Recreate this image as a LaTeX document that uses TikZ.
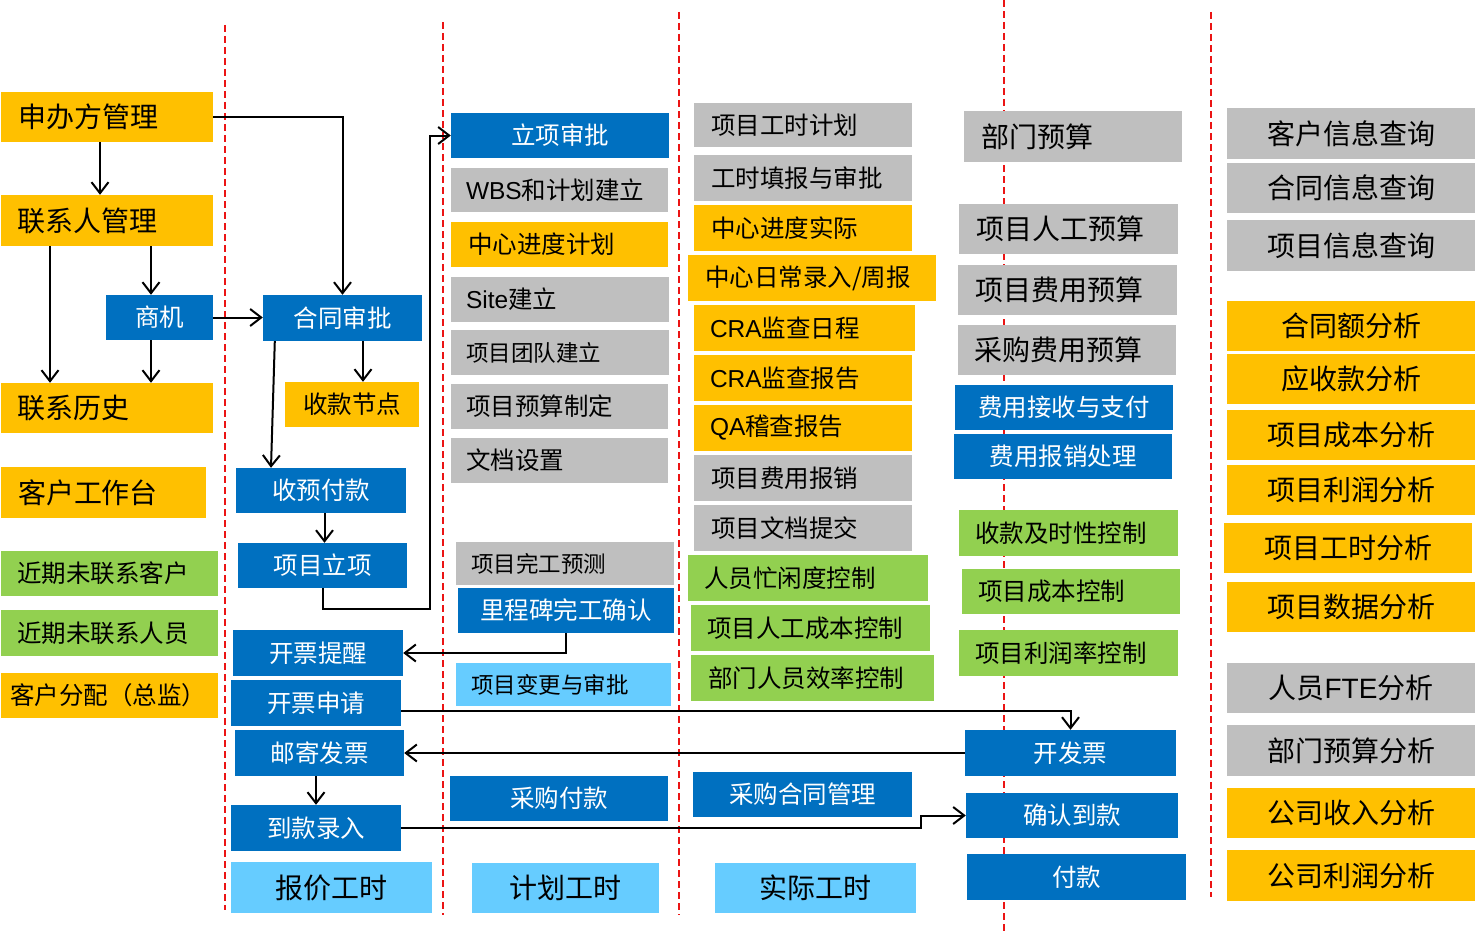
\documentclass[tikz,border=0pt]{standalone}
\usepackage{fontspec}
\setmainfont{Noto Sans CJK SC}
\newfontfamily\latin{Liberation Sans}
\usetikzlibrary{arrows.meta}
\definecolor{boxorange}{RGB}{255,192,0}
\definecolor{boxblue}{RGB}{0,112,192}
\definecolor{boxgray}{RGB}{191,191,191}
\definecolor{boxgreen}{RGB}{146,208,80}
\definecolor{boxlight}{RGB}{102,204,255}
\definecolor{sepred}{RGB}{235,20,20}
\begin{document}
\begin{tikzpicture}[x=1pt, y=-1pt,
	box/.style={inner sep=0pt, text=black},
	orangebox/.style={box, fill=boxorange},
	bluebox/.style={box, fill=boxblue, text=white},
	graybox/.style={box, fill=boxgray},
	greenbox/.style={box, fill=boxgreen},
	lightbox/.style={box, fill=boxlight},
	wh/.style 2 args={minimum width=#1pt, minimum height=#2pt},
	lt/.style={text width=#1pt, align=left},
	lg/.style={font=\fontsize{28}{32}\selectfont},
	md/.style={font=\fontsize{24.5}{28}\selectfont},
	sm/.style={font=\fontsize{22.5}{26}\selectfont},
	link/.style={line width=2pt, -{Straight Barb[length=11pt,width=17pt]}},
	sep/.style={draw=sepred, line width=2pt, dash pattern=on 7pt off 4pt}]
	\useasboundingbox (0,0) rectangle (1476,934);
	% Trennlinien
	\draw[sep] (225,25) -- (225,910);
	\draw[sep] (443,22) -- (443,915);
	\draw[sep] (679,12) -- (679,915);
	\draw[sep] (1004,0) -- (1004,934);
	\draw[sep] (1211,12) -- (1211,897);
	% Kunden
	\node[orangebox, lg, wh={212}{50}, lt=176] (sbf) at (107,117) {申办方管理};
	\node[orangebox, lg, wh={212}{51}, lt=180] (lxr) at (107,220.5) {联系人管理};
	\node[bluebox, md, wh={107}{45}] (sj) at (159.5,317.5) {商机};
	\node[orangebox, lg, wh={212}{50}, lt=180] (lxls) at (107,408) {联系历史};
	\node[orangebox, lg, wh={205}{51}, lt=171] (khgzt) at (103.5,492.5) {客户工作台};
	\node[greenbox, md, wh={217}{45}, lt=185] (jqkh) at (109.5,573.5) {近期未联系客户};
	\node[greenbox, md, wh={217}{46}, lt=185] (jqry) at (109.5,633) {近期未联系人员};
	\node[orangebox, md, wh={217}{45}, lt=199] (khfp) at (109.5,695.5) {客户分配（总监）};
	% Vertrag und Rechnung
	\node[bluebox, md, wh={159}{46}] (htsp) at (342.5,318) {合同审批};
	\node[orangebox, md, wh={134}{45}] (skjd) at (352,404.5) {收款节点};
	\node[bluebox, md, wh={170}{45}] (syfk) at (321,490.5) {收预付款};
	\node[bluebox, md, wh={169}{45}] (xmlx) at (322.5,565.5) {项目立项};
	\node[bluebox, md, wh={170}{46}] (kptx) at (318,653) {开票提醒};
	\node[bluebox, md, wh={170}{46}] (kpsq) at (316,703) {开票申请};
	\node[bluebox, md, wh={169}{46}] (yjfp) at (319.5,753) {邮寄发票};
	\node[bluebox, md, wh={170}{46}] (dklr) at (316,828) {到款录入};
	\node[lightbox, lg, wh={201}{51}] (bjgs) at (331.5,887.5) {报价工时};
	% Projekt
	\node[bluebox, md, wh={218}{45}] (lxsp) at (560,135.5) {立项审批};
	\node[graybox, md, wh={217}{44}, lt=187] (wbs) at (559.5,190) {{\latin WBS}和计划建立};
	\node[orangebox, md, wh={217}{45}, lt=183] (zxjh) at (559.5,244.5) {中心进度计划};
	\node[graybox, md, wh={218}{45}, lt=188] (site) at (560,299.5) {{\latin Site}建立};
	\node[graybox, sm, wh={218}{45}, lt=188] (tdjl) at (560,352.5) {项目团队建立};
	\node[graybox, md, wh={217}{45}, lt=187] (yszd) at (559.5,406.5) {项目预算制定};
	\node[graybox, md, wh={217}{45}, lt=187] (wdsz) at (559.5,460.5) {文档设置};
	\node[graybox, sm, wh={218}{43}, lt=188] (wgyc) at (565,563.5) {项目完工预测};
	\node[bluebox, md, wh={216}{45}] (lcb) at (566,610.5) {里程碑完工确认};
	\node[lightbox, sm, wh={215}{43}, lt=185] (bgsp) at (563.5,684.5) {项目变更与审批};
	\node[bluebox, md, wh={218}{45}] (cgfk) at (559,798.5) {采购付款};
	\node[lightbox, lg, wh={187}{50}] (jhgs) at (565.5,888) {计划工时};
	% Durchfuehrung
	\node[graybox, md, wh={218}{44}, lt=184] (gsjh) at (803,125) {项目工时计划};
	\node[graybox, md, wh={218}{46}, lt=184] (gstb) at (803,178) {工时填报与审批};
	\node[orangebox, md, wh={218}{46}, lt=184] (jdsj) at (803,228) {中心进度实际};
	\node[orangebox, md, wh={248}{46}, lt=214] (rclr) at (812,278) {中心日常录入/周报};
	\node[orangebox, md, wh={221}{46}, lt=189] (crarc) at (804.5,328) {{\latin CRA}监查日程};
	\node[orangebox, md, wh={218}{46}, lt=186] (crabg) at (803,378) {{\latin CRA}监查报告};
	\node[orangebox, md, wh={218}{46}, lt=186] (qabg) at (803,428) {{\latin QA}稽查报告};
	\node[graybox, md, wh={218}{46}, lt=184] (fybx) at (803,478) {项目费用报销};
	\node[graybox, md, wh={218}{46}, lt=184] (wdtj) at (803,528) {项目文档提交};
	\node[greenbox, md, wh={240}{46}, lt=208] (mxd) at (808,578) {人员忙闲度控制};
	\node[greenbox, md, wh={239}{46}, lt=207] (rgcb) at (810.5,628) {项目人工成本控制};
	\node[greenbox, md, wh={243}{46}, lt=209] (xlkz) at (812.5,678) {部门人员效率控制};
	\node[bluebox, md, wh={219}{45}] (cght) at (802.5,794.5) {采购合同管理};
	\node[lightbox, lg, wh={201}{50}] (sjgs) at (815.5,888) {实际工时};
	% Budget und Finanzen
	\node[graybox, lg, wh={218}{51}, lt=184] (bmys) at (1073,136.5) {部门预算};
	\node[graybox, lg, wh={219}{50}, lt=185] (rgys) at (1068.5,229) {项目人工预算};
	\node[graybox, lg, wh={219}{50}, lt=185] (fyys) at (1067.5,290) {项目费用预算};
	\node[graybox, lg, wh={218}{50}, lt=186] (cgys) at (1067,350) {采购费用预算};
	\node[bluebox, md, wh={218}{45}] (jszf) at (1064,407.5) {费用接收与支付};
	\node[bluebox, md, wh={218}{45}] (bxcl) at (1063,456.5) {费用报销处理};
	\node[greenbox, md, wh={219}{46}, lt=187] (jsx) at (1068.5,533) {收款及时性控制};
	\node[greenbox, md, wh={218}{45}, lt=186] (cbkz) at (1071,591.5) {项目成本控制};
	\node[greenbox, md, wh={219}{46}, lt=187] (lrkz) at (1068.5,653) {项目利润率控制};
	\node[bluebox, md, wh={211}{46}] (kfp) at (1070.5,753) {开发票};
	\node[bluebox, md, wh={212}{45}] (qrdk) at (1072,815.5) {确认到款};
	\node[bluebox, md, wh={219}{46}] (fk) at (1076.5,877) {付款};
	% Auswertung
	\node[graybox, lg, wh={248}{51}] (khcx) at (1351,133.5) {客户信息查询};
	\node[graybox, lg, wh={248}{50}] (htcx) at (1351,188) {合同信息查询};
	\node[graybox, lg, wh={248}{51}] (xmcx) at (1351,245.5) {项目信息查询};
	\node[orangebox, lg, wh={248}{50}] (htefx) at (1351,326) {合同额分析};
	\node[orangebox, lg, wh={248}{50}] (yskfx) at (1351,379) {应收款分析};
	\node[orangebox, lg, wh={248}{50}] (cbfx) at (1351,435) {项目成本分析};
	\node[orangebox, lg, wh={248}{50}] (lrfx) at (1351,490) {项目利润分析};
	\node[orangebox, lg, wh={248}{50}] (gsfx) at (1348,548) {项目工时分析};
	\node[orangebox, lg, wh={248}{50}] (sjfx) at (1351,607) {项目数据分析};
	\node[graybox, lg, wh={248}{50}] (ftefx) at (1351,688) {人员{\latin FTE}分析};
	\node[graybox, lg, wh={248}{51}] (bmfx) at (1351,750.5) {部门预算分析};
	\node[orangebox, lg, wh={248}{50}] (srfx) at (1351,813) {公司收入分析};
	\node[orangebox, lg, wh={248}{51}] (gslr) at (1351,875.5) {公司利润分析};
	% Pfeile
	\draw[link] ([xshift=-7pt]sbf.south) -- ([xshift=-7pt]lxr.north);
	\draw[link] (sbf.east) -| (htsp.north);
	\draw[link] ([xshift=-57pt]lxr.south) -- ([xshift=-57pt]lxls.north);
	\draw[link] ([xshift=-8.5pt]sj.north |- lxr.south) -- ([xshift=-8.5pt]sj.north);
	\draw[link] ([xshift=-8.5pt]sj.south) -- ([xshift=-8.5pt]sj.south |- lxls.north);
	\draw[link] (sj.east) -- (sj.east -| htsp.west);
	\draw[link] ([xshift=20.5pt]htsp.south) -- ([xshift=20.5pt]htsp.south |- skjd.north);
	\draw[link] ([xshift=12pt]htsp.south west) -- ([xshift=-50pt]syfk.north);
	\draw[link] ([xshift=3.5pt]syfk.south) -- ([xshift=3.5pt]syfk.south |- xmlx.north);
	\draw[link] (xmlx.south) |- ++(107,21) |- (lxsp.west);
	\draw[link] (lcb.south) |- (kptx.east);
	\draw[link] ([yshift=-8pt]kpsq.east) -| (kfp.north);
	\draw[link] (kfp) -- (yjfp);
	\draw[link] (yjfp.south -| dklr.north) -- (dklr.north);
	\draw[link] (dklr.east) -- ++(520,0) |- (qrdk.west);
\end{tikzpicture}
\end{document}
